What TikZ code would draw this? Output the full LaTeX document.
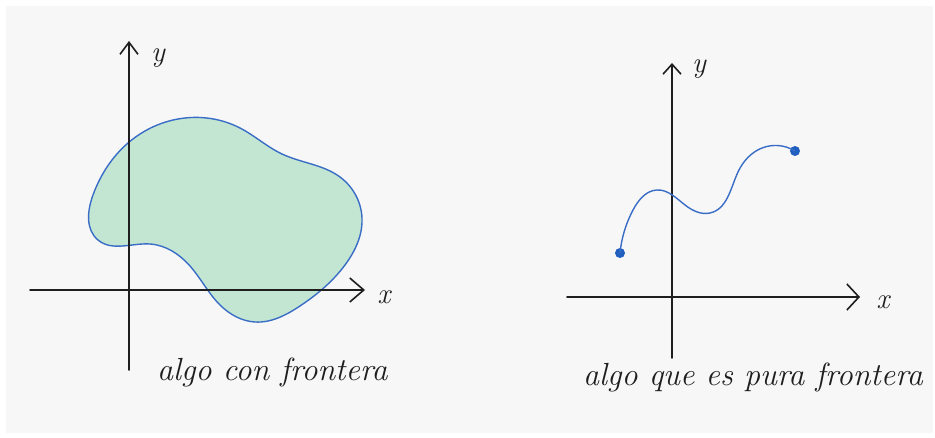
\documentclass[tikz,border=0pt]{standalone}
\usetikzlibrary{arrows.meta,hobby}
\definecolor{bggray}{HTML}{F7F7F7}
\definecolor{inkblack}{HTML}{1E1E1E}
\definecolor{blobfill}{HTML}{C3E6D3}
\definecolor{blobline}{HTML}{3A6EC6}
\definecolor{dotblue}{HTML}{2160C0}
\tikzset{
  axis/.style={draw=inkblack, line width=1.8pt, line cap=round},
  tipbarb/.style={-{Straight Barb[length=#1, width=18pt, line width=1.6pt]}},
  axislabel/.style={text=inkblack, font=\fontsize{29}{31}\selectfont\itshape, inner sep=0pt},
  caption/.style={text=inkblack, font=\fontsize{32}{34}\selectfont\itshape, inner sep=0pt, anchor=base west},
  blob/.style={fill=blobfill, draw=blobline, line width=1.4pt},
  curve/.style={draw=blobline, line width=1.4pt},
  enddot/.style={circle, fill=dotblue, inner sep=0pt, minimum size=10pt}
}
\begin{document}
\begin{tikzpicture}[x=1pt, y=-1pt, use Hobby shortcut]
\useasboundingbox (0,0) rectangle (935,438);
\fill[white] (0,0) rectangle (935,438);
\fill[bggray] (6,6) rectangle (933,433);

% ---- left diagram ----
\draw[blob, closed hobby] plot coordinates {
 (128,143) (178,119) (240,128) (282,154) (340,177)
 (362,218) (345,265) (300,306) (255,322) (220,305)
 (190,266) (150,244) (98,240) (93,195)};
\coordinate (lyb) at (129,370);
\coordinate (lyt) at (129,41);
\coordinate (lxl) at (30,290);
\coordinate (lxr) at (365,290);
\draw[axis, tipbarb=12pt] (lyb) -- (lyt);
\draw[axis, -{Straight Barb[length=14pt, width=24pt, line width=1.6pt]}] (lxl) -- (lxr);
\node[axislabel] (ly) at (158,58) {y};
\node[axislabel] (lx) at (384,297) {x};
\node[caption] (lcap) at (157,381) {algo con frontera};

% ---- right diagram ----
\coordinate (ryb) at (672,358);
\coordinate (ryt) at (672,63);
\coordinate (rxl) at (567,297);
\coordinate (rxr) at (860,297);
\draw[axis, tipbarb=10pt] (ryb) -- (ryt);
\draw[axis, -{Straight Barb[length=12pt, width=26pt, line width=1.6pt]}] (rxl) -- (rxr);
\node[axislabel] (ry) at (699,69) {y};
\node[axislabel] (rx) at (883,302) {x};
\node[enddot] (d1) at (620,253) {};
\node[enddot] (d2) at (795,151) {};
\draw[curve, hobby] plot coordinates {
 (620,253) (633,210) (657,190) (685,205) (710,213)
 (738,172) (762,148) (795,151)};
\node[caption] (rcap) at (583,385) {algo que es pura frontera};
\end{tikzpicture}
\end{document}
